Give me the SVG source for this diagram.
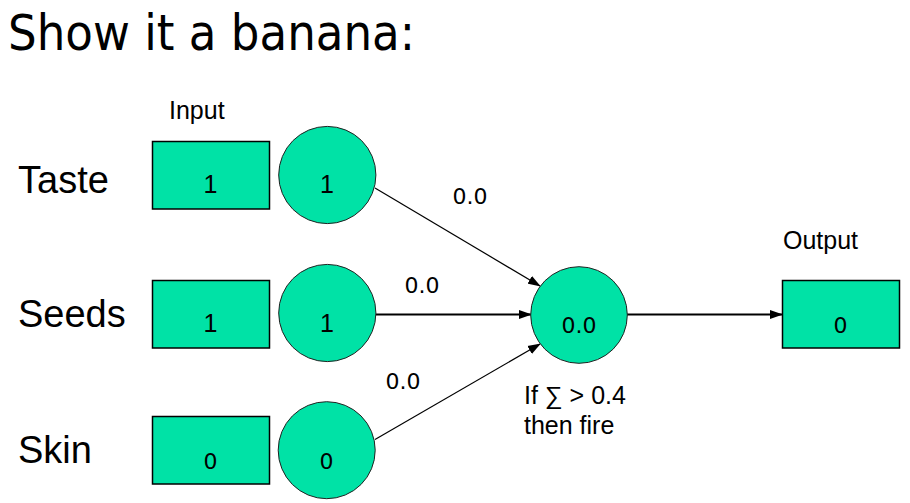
<svg xmlns="http://www.w3.org/2000/svg" width="910" height="503" viewBox="0 0 910 503">
<defs>
<style>
.box{fill:#00E2A6;stroke:#000;stroke-width:1.5}
.cir{fill:#00E2A6;stroke:#222;stroke-width:1}
.a{font-family:"Liberation Sans",Arial,sans-serif;fill:#000}
.t{font-family:"DejaVu Sans",Verdana,sans-serif;fill:#000}
.lbl{font-size:38px}
.sm{font-size:25px}
.num{font-size:22px;text-anchor:middle}
.edge{stroke:#000;fill:none}
</style>
<marker id="arr" markerWidth="13" markerHeight="10" refX="12" refY="4.5" orient="auto" markerUnits="userSpaceOnUse" viewBox="0 0 13 9">
<path d="M0,0 L13,4.5 L0,9 Z" fill="#000"/>
</marker>
</defs>
<rect width="910" height="503" fill="#fff"/>
<text class="t" x="8" y="50" font-size="50" textLength="407" lengthAdjust="spacingAndGlyphs">Show it a banana:</text>
<text class="a lbl" x="18" y="193">Taste</text>
<text class="a lbl" x="18" y="327">Seeds</text>
<text class="a lbl" x="18" y="463">Skin</text>
<text class="a sm" x="169" y="119">Input</text>
<text class="a sm" x="783" y="249">Output</text>

<g id="connectors">
<line class="edge" x1="375" y1="188" x2="540" y2="286" stroke-width="1.2" marker-end="url(#arr)"/>
<line class="edge" x1="376" y1="314.5" x2="531" y2="314.5" stroke-width="1.8" marker-end="url(#arr)"/>
<line class="edge" x1="375" y1="439.5" x2="540" y2="344" stroke-width="1.2" marker-end="url(#arr)"/>
<line class="edge" x1="627" y1="314.5" x2="782" y2="314.5" stroke-width="1.8" marker-end="url(#arr)"/>
<text class="t num" x="470" y="204">0.0</text>
<text class="t num" x="422" y="293">0.0</text>
<text class="t num" x="403" y="389">0.0</text>
</g>

<g id="in-taste-box"><rect class="box" x="152.5" y="141.5" width="117" height="67.5"/><text class="a sm" x="210.5" y="193" text-anchor="middle">1</text></g>
<g id="in-taste-node"><circle class="cir" cx="327.3" cy="175" r="48.6"/><text class="a sm" x="327" y="193" text-anchor="middle">1</text></g>
<g id="in-seeds-box"><rect class="box" x="152.5" y="280.5" width="117" height="67.5"/><text class="a sm" x="210.5" y="332" text-anchor="middle">1</text></g>
<g id="in-seeds-node"><circle class="cir" cx="327.3" cy="313" r="48.6"/><text class="a sm" x="327" y="332" text-anchor="middle">1</text></g>
<g id="in-skin-box"><rect class="box" x="152.5" y="416.5" width="117" height="67.5"/><text class="t num" x="210.5" y="469">0</text></g>
<g id="in-skin-node"><circle class="cir" cx="326.7" cy="450.2" r="48.5"/><text class="t num" x="326.5" y="469">0</text></g>
<g id="neuron"><circle class="cir" cx="579" cy="315" r="48.3"/><text class="t num" x="579" y="333">0.0</text>
<text class="a sm" x="524" y="404">If ∑ &gt; 0.4</text>
<text class="a sm" x="524" y="434">then fire</text></g>
<g id="output-box"><rect class="box" x="782.5" y="280.5" width="117" height="67.5"/><text class="t num" x="840.5" y="333">0</text></g>
</svg>
